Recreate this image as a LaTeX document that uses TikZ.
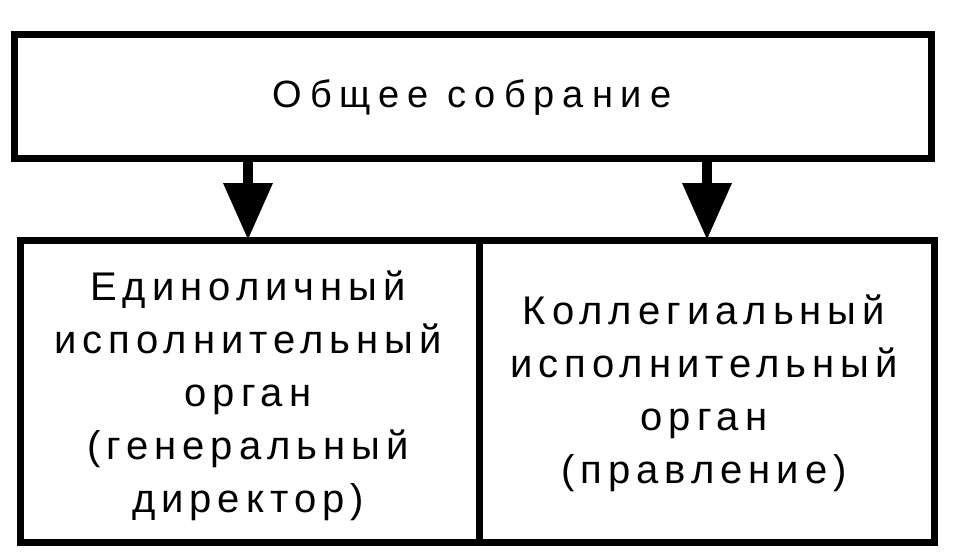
\documentclass[tikz,border=0pt]{standalone}
\usepackage{fontspec}
\setmainfont{Liberation Sans}
\newfontfamily\topfont{Liberation Sans}[LetterSpace=21]
\newfontfamily\boxfont{Liberation Sans}[LetterSpace=15]
\usetikzlibrary{arrows.meta}
\tikzset{
  box/.style={draw=black, line width=7pt, rectangle, inner sep=0pt, outer sep=0pt},
  label text/.style={inner sep=0pt, align=center},
  flow/.style={draw=black, line width=10pt, -{Triangle[length=57pt 0 0, width=47pt 0 0]}}
}
\begin{document}
\begin{tikzpicture}[x=1pt,y=-1pt]
\useasboundingbox[fill=white] (0,0) rectangle (960,558);
\node[box, minimum width=917pt, minimum height=124pt] (top) at (472.5,96) {};
\node[box, minimum width=459pt, minimum height=302pt] (left) at (249.5,391) {};
\node[box, minimum width=455pt, minimum height=302pt] (right) at (706.5,391) {};
\node[label text, font=\topfont\fontsize{38}{53}\selectfont] (toptext) at (472,98) {Общее собрание};
\node[label text, font=\boxfont\fontsize{40}{53}\selectfont] (lefttext) at (248,396) {Единоличный\\исполнительный\\орган\\(генеральный\\директор)};
\node[label text, font=\boxfont\fontsize{40}{53}\selectfont] (righttext) at (704,393) {Коллегиальный\\исполнительный\\орган\\(правление)};
\coordinate (la) at (248,0);
\coordinate (ra) at (707,0);
\draw[flow] (top.south -| la) -- (left.north -| la);
\draw[flow] (top.south -| ra) -- (right.north -| ra);
\end{tikzpicture}
\end{document}
